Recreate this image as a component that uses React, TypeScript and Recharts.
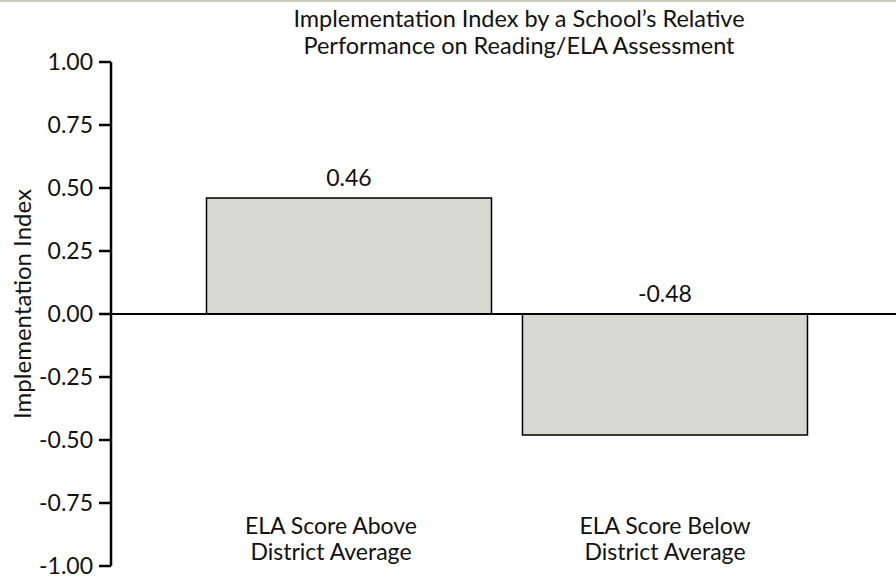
import { BarChart, Bar, XAxis, YAxis, ReferenceLine, LabelList, Label } from 'recharts';

const categories = ['ELA Score Above\nDistrict Average', 'ELA Score Below\nDistrict Average'];
const indexValues = [0.46, -0.48];
const yTicks = [-1, -0.75, -0.5, -0.25, 0, 0.25, 0.5, 0.75, 1];
const titleLines = ['Implementation Index by a School\u2019s Relative', 'Performance on Reading/ELA Assessment'];

const data = categories.map((name, i) => ({ name, value: indexValues[i] }));

const FONT = 'Lato, "Noto Sans", sans-serif';
const FONT_SIZE = 23;
const tickShift = [-18, 0];

function CategoryTick(props: any) {
  const { x, y, payload, index } = props;
  const lines = String(payload.value).split('\n');
  const cx = x + (tickShift[index] ?? 0);
  return (
    <text x={cx} y={y - 32} textAnchor="middle" fontFamily={FONT} fontSize={FONT_SIZE} fill="#111">
      {lines.map((line, i) => (
        <tspan key={i} x={cx} dy={i === 0 ? 0 : 26}>
          {line}
        </tspan>
      ))}
    </text>
  );
}

function ValueLabel(props: any) {
  const { x, y, width, height, value } = props;
  const top = Math.min(y, y + height);
  return (
    <text x={x + width / 2} y={top - 12} textAnchor="middle" fontFamily={FONT} fontSize={FONT_SIZE} fill="#111">
      {Number(value).toFixed(2)}
    </text>
  );
}

function AxisTitle(props: any) {
  const { viewBox } = props;
  const cy = viewBox.y + viewBox.height / 2 - 10;
  return (
    <text
      x={21}
      y={cy}
      transform={`rotate(-90, 21, ${cy})`}
      textAnchor="middle"
      dominantBaseline="central"
      fontFamily={FONT}
      fontSize={24}
      fill="#111"
    >
      Implementation Index
    </text>
  );
}

export default function App() {
  return (
    <div style={{ position: 'absolute', left: 0, top: 0, width: 896, height: 578, background: '#fff', borderTop: '2px solid #c9cabb', boxSizing: 'border-box' }}>
      <div
        style={{
          position: 'absolute',
          left: 0,
          top: 3,
          width: 1038,
          textAlign: 'center',
          fontFamily: FONT,
          fontSize: 23.5,
          lineHeight: '27px',
          color: '#111',
        }}
      >
        {titleLines.map((t) => (
          <div key={t}>{t}</div>
        ))}
      </div>
      <div style={{ position: 'absolute', left: 0, top: -2 }}>
        <BarChart width={896} height={578} data={data} margin={{ top: 62, right: 0, bottom: 0, left: 0 }} barCategoryGap="4.9%">
          <XAxis
            dataKey="name"
            height={12}
            axisLine={false}
            tickLine={false}
            tickSize={0}
            tickMargin={0}
            padding={{ left: 80, right: 73 }}
            tick={<CategoryTick />}
            interval={0}
          />
          <YAxis
            width={111}
            domain={[-1, 1]}
            ticks={yTicks}
            interval={0}
            tickFormatter={(v: number) => v.toFixed(2)}
            tickSize={12}
            tickMargin={6}
            stroke="#000"
            axisLine={{ stroke: '#000', strokeWidth: 2.5 }}
            tickLine={{ stroke: '#000', strokeWidth: 2.5 }}
            tick={{ fill: '#111', fontFamily: FONT, fontSize: FONT_SIZE }}
          >
            <Label content={<AxisTitle />} />
          </YAxis>
          <Bar dataKey="value" fill="#d7d8d0" stroke="#000" strokeWidth={1.5} isAnimationActive={false}>
            <LabelList dataKey="value" content={<ValueLabel />} />
          </Bar>
          <ReferenceLine y={0} stroke="#000" strokeWidth={2} />
        </BarChart>
      </div>
    </div>
  );
}
